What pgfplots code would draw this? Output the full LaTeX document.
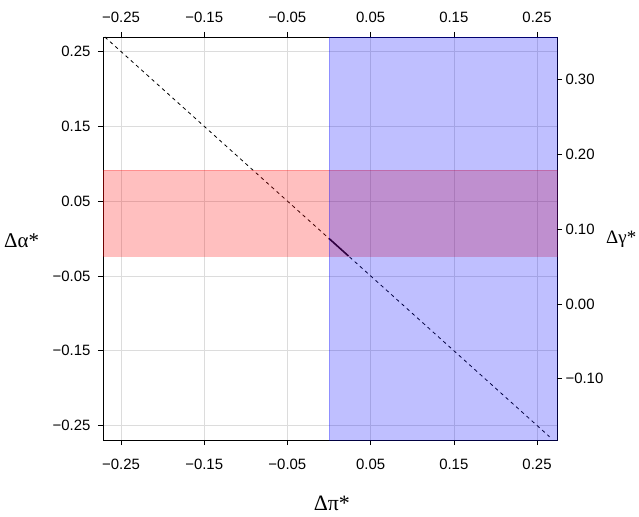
\documentclass[border=0pt]{standalone}
\usepackage{pgfplots}
\pgfplotsset{compat=1.18}
\usepackage{fontspec}
\setmainfont{Liberation Sans}
\newfontfamily\lblfont{Liberation Serif}

\definecolor{gridgray}{HTML}{DCDCDC}

\pgfplotsset{
  common/.style={
    scale only axis, width=454bp, height=403bp,
    at={(0,0)}, anchor=south west,
    xmin=-0.2716, xmax=0.274,
    tick align=outside, major tick length=5bp,
    every tick/.style={black, line width=0.6pt},
    tick label style={font=\fontsize{15}{18}\selectfont},
    xtick={-0.25,-0.15,-0.05,0.05,0.15,0.25},
    xticklabels={−0.25,−0.15,−0.05,0.05,0.15,0.25},
  },
}

\begin{document}
\begin{tikzpicture}
\useasboundingbox (-103bp,-77bp) rectangle (536bp,440bp);

% main axis: data, bottom and left
\begin{axis}[common,
  ymin=-0.2694, ymax=0.2694,
  ytick={-0.25,-0.15,-0.05,0.05,0.15,0.25},
  yticklabels={−0.25,−0.15,−0.05,0.05,0.15,0.25},
  xtick pos=bottom, ytick pos=left,
  xticklabel style={yshift=-11bp},
  yticklabel style={xshift=-4bp},
  grid=major, grid style={gridgray, line width=0.5pt},
  axis line style={black, line width=0.8pt},
  clip=false,
  xlabel={\lblfont\fontsize{22}{26}\selectfont Δπ*},
  ylabel={\lblfont\fontsize{21}{25}\selectfont Δα*},
  every axis x label/.style={at={(axis description cs:0.504,-0.158)}, anchor=center},
  every axis y label/.style={at={(axis description cs:-0.2180,0.494)}, anchor=west, inner sep=0pt},
]
\addplot[black, line width=0.8pt, dash pattern=on 3.5bp off 3.5bp]
  coordinates {(-0.2694,0.2694) (0.265,-0.265)};
\addplot[black, line width=1.6pt]
  coordinates {(0,0) (0.0234,-0.0234)};
\addplot[fill=red, draw=red, fill opacity=0.25, draw opacity=0.25, line width=0.8pt]
  coordinates {(-0.2716,-0.0234) (0.274,-0.0234) (0.274,0.0916) (-0.2716,0.0916)} --cycle;
\addplot[fill=blue, draw=blue, fill opacity=0.25, draw opacity=0.25, line width=0.8pt]
  coordinates {(0,-0.2694) (0.274,-0.2694) (0.274,0.2694) (0,0.2694)} --cycle;
\end{axis}

% top x ticks
\begin{axis}[common,
  ymin=-0.2694, ymax=0.2694,
  axis x line*=top, hide y axis,
  axis line style={draw=none},
  xticklabel style={yshift=6bp},
]
\end{axis}

% right axis: Delta gamma
\begin{axis}[common,
  ymin=-0.1819, ymax=0.3569,
  ytick={-0.10,0,0.10,0.20,0.30},
  yticklabels={−0.10,0.00,0.10,0.20,0.30},
  axis y line*=right, hide x axis,
  axis line style={draw=none},
  ylabel={\lblfont\fontsize{19}{23}\selectfont Δγ*},
  every axis y label/.style={at={(axis description cs:1.108,0.497)}, anchor=west, inner sep=0pt},
]
\end{axis}
\end{tikzpicture}
\end{document}
